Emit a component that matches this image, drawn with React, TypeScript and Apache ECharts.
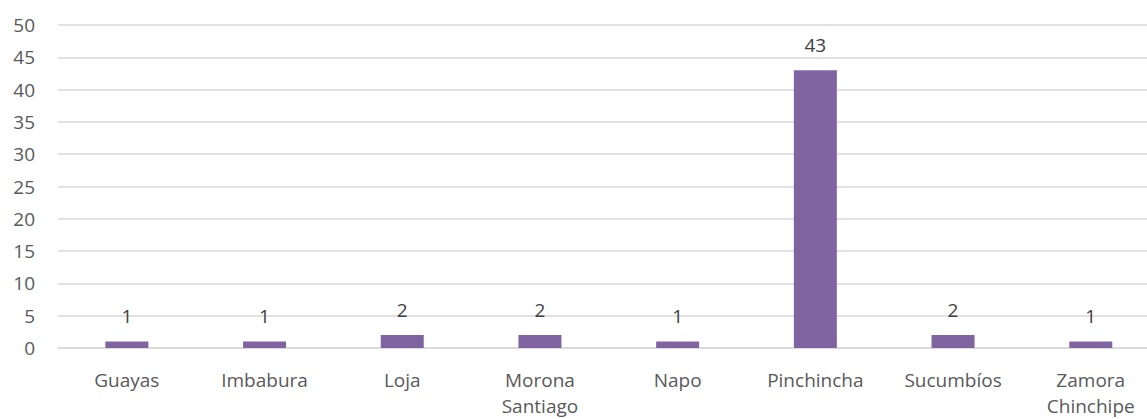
import React, { useEffect, useRef } from "react";
import * as echarts from "echarts";

const provinces = [
  "Guayas",
  "Imbabura",
  "Loja",
  "Morona\nSantiago",
  "Napo",
  "Pinchincha",
  "Sucumbíos",
  "Zamora\nChinchipe",
];
const counts = [1, 1, 2, 2, 1, 43, 2, 1];
const yMin = 0;
const yMax = 50;
const yStep = 5;

const FONT = "'Open Sans', 'Liberation Sans', sans-serif";

export default function App() {
  const ref = useRef<HTMLDivElement>(null);

  useEffect(() => {
    if (!ref.current) return;
    const chart = echarts.init(ref.current, null, { renderer: "svg" });
    chart.setOption({
      animation: false,
      backgroundColor: "#ffffff",
      grid: { left: 58, top: 25, width: 1101.6, height: 325.3, containLabel: false },
      xAxis: {
        type: "category",
        data: provinces,
        axisLine: { show: true, lineStyle: { color: "#d9d9d9", width: 1.5 } },
        axisTick: { show: false },
        axisLabel: {
          color: "#595959",
          fontFamily: FONT,
          fontSize: 19,
          lineHeight: 26,
          margin: 19,
          interval: 0,
        },
      },
      yAxis: {
        type: "value",
        min: yMin,
        max: yMax,
        interval: yStep,
        axisLine: { show: false },
        axisTick: { show: false },
        splitLine: { lineStyle: { color: "#d9d9d9", width: 1.5 } },
        axisLabel: {
          color: "#595959",
          fontFamily: FONT,
          fontSize: 19,
          margin: 23,
        },
      },
      series: [
        {
          type: "bar",
          data: counts,
          barWidth: 43,
          itemStyle: { color: "#8064A2" },
          label: {
            show: true,
            position: "top",
            distance: 16,
            color: "#404040",
            fontFamily: FONT,
            fontSize: 19,
          },
        },
      ],
    });
    return () => chart.dispose();
  }, []);

  return (
    <div
      style={{
        position: "fixed",
        left: 0,
        top: 0,
        width: 1147,
        height: 419,
        overflow: "hidden",
        background: "#ffffff",
      }}
    >
      <div ref={ref} style={{ width: 1162, height: 419 }} />
    </div>
  );
}
